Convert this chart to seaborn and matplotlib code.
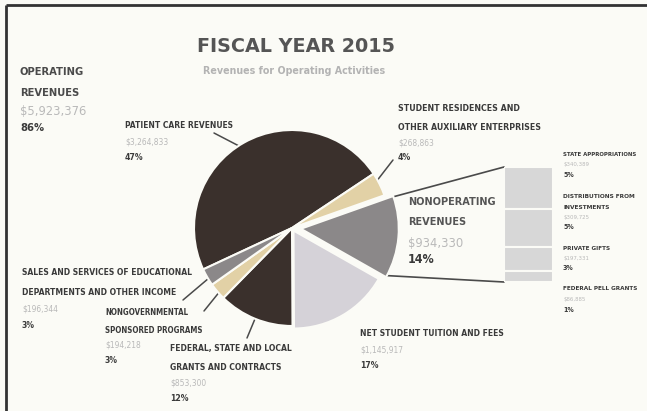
import numpy as np
import matplotlib
matplotlib.use("Agg")
import matplotlib.pyplot as plt
import seaborn as sns

# ---------------- data ----------------
categories = ["PATIENT CARE REVENUES",
              "STUDENT RESIDENCES AND\nOTHER AUXILIARY ENTERPRISES",
              "NONOPERATING\nREVENUES",
              "NET STUDENT TUITION AND FEES",
              "FEDERAL, STATE AND LOCAL\nGRANTS AND CONTRACTS",
              "NONGOVERNMENTAL\nSPONSORED PROGRAMS",
              "SALES AND SERVICES OF EDUCATIONAL\nDEPARTMENTS AND OTHER INCOME"]
values = [3264833, 268863, 934330, 1145917, 853300, 194218, 196344]
value_labels = ["$3,264,833", "$268,863", "$934,330", "$1,145,917", "$853,300", "$194,218", "$196,344"]
pct_labels = ["47%", "4%", "14%", "17%", "12%", "3%", "3%"]

nonop_categories = ["STATE APPROPRIATIONS", "DISTRIBUTIONS FROM\nINVESTMENTS", "PRIVATE GIFTS", "FEDERAL PELL GRANTS"]
nonop_values = [340389, 309725, 197331, 86885]
nonop_value_labels = ["$340,389", "$309,725", "$197,331", "$86,885"]
nonop_pct_labels = ["5%", "5%", "3%", "1%"]

operating_title = "OPERATING\nREVENUES"
operating_total_label = "$5,923,376"
operating_pct_label = "86%"

# ---------------- style ----------------
sns.set_theme(style="white")
plt.rcParams["font.family"] = ["DejaVu Sans"]

BG = "#fbfbf6"
DARK = "#3a302c"
TAN = "#e2d1a6"
GRAY = "#8b8889"
LIGHT = "#d5d2d8"
TXT = "#3a3a3a"
VAL = "#b9b9b9"
colors = [DARK, TAN, GRAY, LIGHT, DARK, TAN, GRAY]

W, H = 647, 411
fig = plt.figure(figsize=(W / 100, H / 100), dpi=100, facecolor=BG)
renderer = fig.canvas.get_renderer()

ov = fig.add_axes([0, 0, 1, 1], zorder=0)
ov.set_xlim(0, W)
ov.set_ylim(H, 0)
ov.axis("off")

ov.plot([6, W], [5.5, 5.5], color="#333333", lw=2, solid_capstyle="butt")
ov.plot([6, 6], [5, H], color="#333333", lw=2, solid_capstyle="butt")


def put(x, y, s, size, width=None, stretch="condensed", **kw):
    t = ov.text(x, y, s, fontsize=size, ha=kw.pop("ha", "left"), va="center",
                fontstretch=stretch, **kw)
    if width is not None:
        bb = t.get_window_extent(renderer)
        t.set_fontsize(size * width / bb.width)
    return t


def put_lines(x, ys, text, width, **kw):
    lines = text.split("\n")
    longest = max(lines, key=len)
    i_long = lines.index(longest)
    t = put(x, ys[i_long], longest, 8, width=width, **kw)
    fs = t.get_fontsize()
    for i, ln in enumerate(lines):
        if i != i_long:
            put(x, ys[i], ln, fs, **kw)
    return fs

# ---------------- pie ----------------
cx, cy, R = 292, 228, 98
lim = 1.25
aw = R * lim
pax = fig.add_axes([(cx - aw) / W, (H - cy - aw) / H, 2 * aw / W, 2 * aw / H], zorder=2)
pax.set_xlim(-lim, lim)
pax.set_ylim(-lim, lim)
pax.axis("off")
explode = [0, 0, 0.09, 0.03, 0, 0, 0]
wedges, _ = pax.pie(values, colors=colors, startangle=205, counterclock=False,
                    explode=explode, radius=1.0,
                    wedgeprops=dict(edgecolor=BG, linewidth=1.5))
fig.canvas.draw()


def to_ov(xy):
    return ov.transData.inverted().transform(pax.transData.transform(xy))


def wedge_point(w, frac_angle=0.5, rfrac=1.0, angle=None):
    t1, t2 = w.theta1, w.theta2
    a = np.deg2rad(angle if angle is not None else t1 + (t2 - t1) * frac_angle)
    c = w.center
    return to_ov((c[0] + w.r * rfrac * np.cos(a), c[1] + w.r * rfrac * np.sin(a)))

# ---------------- titles ----------------
put(296, 47, "FISCAL YEAR 2015", 14, width=198, stretch="normal", ha="center",
    fontweight="bold", color="#555555")
put(294, 71, "Revenues for Operating Activities", 7, width=183, ha="center",
    fontweight="bold", color="#b3b3b3")

put_lines(20, [72, 93], operating_title, 64, fontweight="bold", color="#4a4a4a")
put(20, 111, operating_total_label, 8, width=66, color=VAL)
put(20, 128, operating_pct_label, 7, width=24, fontweight="bold", color=TXT)

# ---------------- slice labels ----------------
# x, name line ys, value y, pct y, name width, leader start (near label)
layout = [
    (125, [125], 142, 157, 107, (214, 133)),
    (398, [108, 127], 143, 157, 141, (393, 160)),
    (408, [202, 222], 243, 259, 88, None),
    (360, [333], 350, 365, 142, (345, 313)),
    (170, [348, 367], 383, 398, 121, (247, 338)),
    (105, [312, 330], 345, 360, 97, (204, 311)),
    (22, [272, 292], 309, 325, 170, (183, 300)),
]
for i, (lx, ys, yv, yp, wname, lead) in enumerate(layout):
    if i == 2:
        put_lines(lx, ys, categories[i], wname, fontweight="bold", color="#555555")
        put(lx, yv, value_labels[i], 9, width=55, color=VAL)
        put(lx, yp, pct_labels[i], 8, width=27, fontweight="bold", color=TXT)
        continue
    put_lines(lx, ys, categories[i], wname, fontweight="bold", color=TXT)
    put(lx, yv, value_labels[i], 6.0, color=VAL)
    put(lx, yp, pct_labels[i], 6.2, fontweight="bold", color=TXT)
    if lead is not None:
        p = wedge_point(wedges[i], 0.5, rfrac=0.9)
        ov.plot([lead[0], p[0]], [lead[1], p[1]], color="#4a4a4a", lw=1.1, zorder=3)

# ---------------- nonoperating breakdown bar ----------------
bx0, bx1, by0, by1 = 504, 553, 167, 282
bax = fig.add_axes([bx0 / W, (H - by1) / H, (bx1 - bx0) / W, (by1 - by0) / H], zorder=2)
total_nonop = sum(nonop_values)
bottom = total_nonop
for v in nonop_values:
    bottom -= v
    bax.bar(0, v, bottom=bottom, width=1.0, color="#d7d7d7", edgecolor=BG, linewidth=1.5)
bax.set_xlim(-0.5, 0.5)
bax.set_ylim(0, total_nonop)
bax.axis("off")

w = wedges[2]
p_top = wedge_point(w, angle=w.theta2 - 1, rfrac=1.0)
p_bot = wedge_point(w, angle=w.theta1 + 1, rfrac=1.0)
ov.plot([p_top[0], bx0], [p_top[1] - 1, by0], color="#4a4a4a", lw=1.2, zorder=3)
ov.plot([p_bot[0], bx0], [p_bot[1], by1], color="#4a4a4a", lw=1.2, zorder=3)

nonop_layout = [
    ([154], 164, 175, 74),
    ([196, 207], 217, 227, 72),
    ([248], 258, 268, 47),
    ([288], 299, 310, 75),
]
for i, (ys, yv, yp, wname) in enumerate(nonop_layout):
    put_lines(563, ys, nonop_categories[i], wname, fontweight="bold", color=TXT)
    put(563, yv, nonop_value_labels[i], 4.3, color=VAL)
    put(563, yp, nonop_pct_labels[i], 5, fontweight="bold", color=TXT)

fig.savefig("out.png", dpi=100, facecolor=BG)
